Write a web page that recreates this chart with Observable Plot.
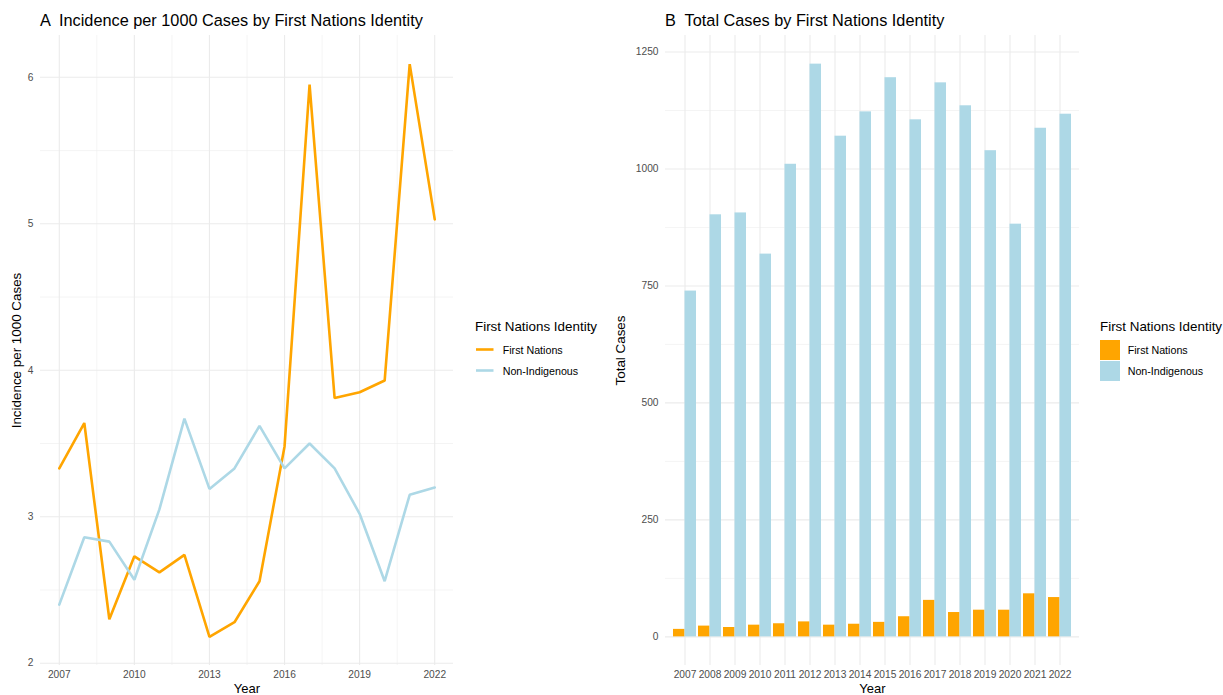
<!DOCTYPE html>
<html>
<head>
<meta charset="utf-8">
<script src="https://cdn.jsdelivr.net/npm/d3@7"></script>
<script src="https://cdn.jsdelivr.net/npm/@observablehq/plot@0.6"></script>
<style>
  html, body { margin: 0; padding: 0; background: #fff; }
  #wrap { position: relative; width: 1223px; height: 695px; overflow: hidden; font-family: "Liberation Sans", Arial, sans-serif; }
  #wrap > svg, #wrap > div { position: absolute; top: 0; }
  g[aria-label="x-axis label"], g[aria-label="x-axis label"] text { fill: #000; font-size: 13px; }
  g[aria-label="y-axis label"], g[aria-label="y-axis label"] text { fill: #000; font-size: 13.4px; }
  g[aria-label="x-axis tick label"], g[aria-label="y-axis tick label"] { fill: #4d4d4d; }
</style>
</head>
<body>
<div id="wrap"></div>
<script>
// ---- data ----
const years = [2007, 2008, 2009, 2010, 2011, 2012, 2013, 2014, 2015, 2016, 2017, 2018, 2019, 2020, 2021, 2022];
const groups = ["First Nations", "Non-Indigenous"];
const incidenceFirstNations = [3.33, 3.64, 2.30, 2.73, 2.62, 2.74, 2.18, 2.28, 2.56, 3.48, 5.95, 3.81, 3.85, 3.93, 6.09, 5.03];
const incidenceNonIndigenous = [2.40, 2.86, 2.83, 2.57, 3.05, 3.67, 3.19, 3.33, 3.62, 3.33, 3.50, 3.33, 3.02, 2.56, 3.15, 3.20];
const casesFirstNations = [16, 23, 20, 25, 28, 32, 25, 27, 31, 43, 78, 52, 57, 57, 92, 84];
const casesNonIndigenous = [739, 902, 906, 818, 1010, 1224, 1070, 1122, 1195, 1105, 1184, 1135, 1039, 882, 1087, 1117];
const yearTicks = [2007, 2010, 2013, 2016, 2019, 2022];
const yearMinor = [2008.5, 2011.5, 2014.5, 2017.5, 2020.5];
const incidenceTicks = [2, 3, 4, 5, 6];
const incidenceMinor = [2.5, 3.5, 4.5, 5.5];
const caseTicks = [0, 250, 500, 750, 1000, 1250];
const caseMinor = [125, 375, 625, 875, 1125];

const colors = ["#FFA500", "#ADD8E6"];
const FONT = '"Liberation Sans", Arial, sans-serif';
const GRID = "#ebebeb";

const incidence = years.flatMap((y, i) => [
  {year: y, group: groups[0], value: incidenceFirstNations[i]},
  {year: y, group: groups[1], value: incidenceNonIndigenous[i]}
]);
const cases = years.flatMap((y, i) => [
  {year: y, group: groups[0], value: casesFirstNations[i]},
  {year: y, group: groups[1], value: casesNonIndigenous[i]}
]);

// ggplot-like 5% expansion
function expand([a, b], f = 0.05) { const d = (b - a) * f; return [a - d, b + d]; }
const incDomain = expand(d3.extent(incidence, d => d.value));
const yearDomain = expand(d3.extent(years));
const caseDomain = expand([0, d3.max(cases, d => d.value)]);

const wrap = document.getElementById("wrap");

// ---- Panel A ----
const left = Plot.plot({
  width: 460, height: 695,
  marginLeft: 40, marginRight: 7, marginTop: 35, marginBottom: 30,
  style: {fontFamily: FONT, fontSize: "10.2px", color: "#4d4d4d", background: "transparent", overflow: "visible"},
  x: {domain: yearDomain},
  y: {domain: incDomain},
  color: {domain: groups, range: colors},
  marks: [
    Plot.ruleX(yearMinor, {stroke: GRID, strokeWidth: 0.55}),
    Plot.ruleY(incidenceMinor, {stroke: GRID, strokeWidth: 0.55}),
    Plot.ruleX(yearTicks, {stroke: GRID, strokeWidth: 1.1}),
    Plot.ruleY(incidenceTicks, {stroke: GRID, strokeWidth: 1.1}),
    Plot.axisX({ticks: yearTicks, tickSize: 0, tickPadding: 5.3, tickFormat: d => String(d),
      label: "Year", labelAnchor: "center", labelArrow: "none", labelOffset: 27.3}),
    Plot.axisY({ticks: incidenceTicks, tickSize: 0, tickPadding: 7, tickFormat: d => String(d),
      label: "Incidence per 1000 Cases", labelAnchor: "center", labelArrow: "none", labelOffset: 29}),
    Plot.line(incidence, {x: "year", y: "value", stroke: "group", strokeWidth: 2.6, strokeLinejoin: "miter"})
  ]
});
left.style.left = "0px";
wrap.appendChild(left);

// ---- Panel B ----
const rW = 490, rML = 65, rMR = 11;
const step = (rW - rML - rMR) / (years.length - 0.1 + 2 * 0.15);
const bw = step * 0.9;
const right = Plot.plot({
  width: rW, height: 695,
  marginLeft: rML, marginRight: rMR, marginTop: 35, marginBottom: 30,
  style: {fontFamily: FONT, fontSize: "10.2px", color: "#4d4d4d", background: "transparent", overflow: "visible"},
  x: {type: "band", domain: years, paddingInner: 0.1, paddingOuter: 0.15, align: 0.5},
  y: {domain: caseDomain},
  color: {domain: groups, range: colors},
  marks: [
    Plot.ruleY(caseMinor, {stroke: GRID, strokeWidth: 0.55}),
    Plot.ruleY(caseTicks, {stroke: GRID, strokeWidth: 1.1}),
    Plot.ruleX(years, {x: d => d, stroke: GRID, strokeWidth: 1.1}),
    Plot.axisX({tickSize: 0, tickPadding: 5.3, tickFormat: d => String(d),
      label: "Year", labelAnchor: "center", labelArrow: "none", labelOffset: 27.3}),
    Plot.axisY({ticks: caseTicks, tickSize: 0, tickPadding: 7, tickFormat: d => String(d),
      label: "Total Cases", labelAnchor: "center", labelArrow: "none", labelOffset: 50}),
    Plot.barY(cases.filter(d => d.group === groups[0]), {x: "year", y: "value", fill: "group", insetRight: bw / 2}),
    Plot.barY(cases.filter(d => d.group === groups[1]), {x: "year", y: "value", fill: "group", insetLeft: bw / 2})
  ]
});
right.style.left = "600px";
wrap.appendChild(right);

// ---- Titles and legends overlay ----
const NS = "http://www.w3.org/2000/svg";
const ov = document.createElementNS(NS, "svg");
ov.setAttribute("width", 1223); ov.setAttribute("height", 695);
ov.style.left = "0px"; ov.style.pointerEvents = "none";
ov.setAttribute("font-family", FONT);
function txt(x, y, s, size, fill = "#000") {
  const t = document.createElementNS(NS, "text");
  t.setAttribute("x", x); t.setAttribute("y", y);
  t.setAttribute("font-size", size); t.setAttribute("fill", fill);
  t.setAttribute("xml:space", "preserve"); t.style.whiteSpace = "pre";
  t.textContent = s; ov.appendChild(t);
}
function el(tag, attrs) {
  const e = document.createElementNS(NS, tag);
  for (const k in attrs) e.setAttribute(k, attrs[k]);
  ov.appendChild(e);
}
txt(40, 26, "A  Incidence per 1000 Cases by First Nations Identity", "16.3px");
txt(665, 26, "B  Total Cases by First Nations Identity", "16.3px");

// legend A (lines)
txt(475, 330.7, "First Nations Identity", "13.4px");
const legY = [349.5, 370.5];
groups.forEach((g, i) => {
  el("line", {x1: 476, x2: 493.5, y1: legY[i], y2: legY[i], stroke: colors[i], "stroke-width": 2.6});
  txt(502.7, legY[i] + 4, g, "10.7px");
});
// legend B (squares)
txt(1100, 330.7, "First Nations Identity", "13.4px");
groups.forEach((g, i) => {
  el("rect", {x: 1100, y: 340 + i * 21, width: 20, height: 20, fill: colors[i]});
  txt(1127.7, legY[i] + 4, g, "10.7px");
});
wrap.appendChild(ov);
</script>
</body>
</html>
